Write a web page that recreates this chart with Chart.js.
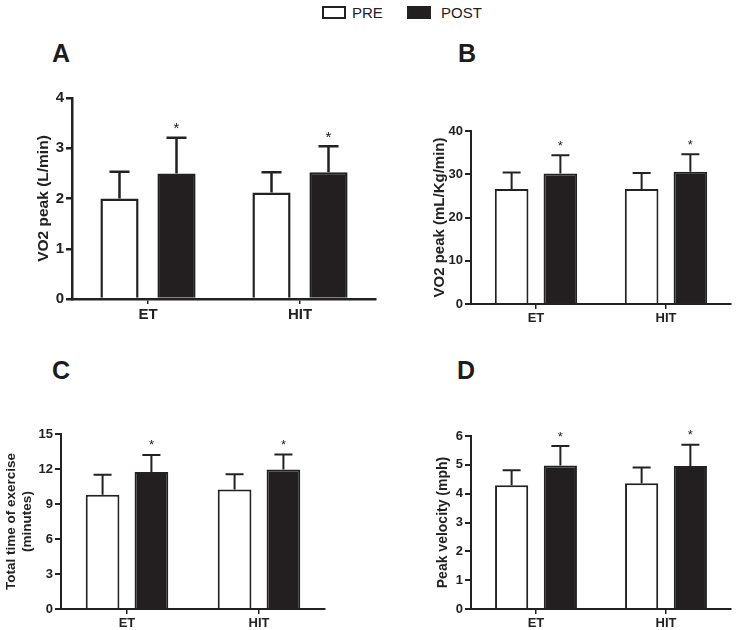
<!DOCTYPE html>
<html>
<head>
<meta charset="utf-8">
<script src="https://cdn.jsdelivr.net/npm/chart.js@4/dist/chart.umd.min.js"></script>
<style>
  body { margin: 0; background: #fff; font-family: "Liberation Sans", Arial, sans-serif; }
  #page { position: relative; width: 736px; height: 630px; overflow: hidden; background: #fff; }
  .panel { position: absolute; }
  .letter { position: absolute; font-weight: bold; font-size: 25px; line-height: 1; color: #1c1c1c; }
  .legend-box { position: absolute; width: 20px; height: 9px; border: 2px solid #222; }
  .legend-text { position: absolute; font-size: 15px; line-height: 1; color: #222; }
</style>
</head>
<body>
<div id="page">
  <div class="legend-box" style="left:322px; top:6px; background:#fff;"></div>
  <div class="legend-text" style="left:352px; top:5px;">PRE</div>
  <div class="legend-box" style="left:407px; top:6px; background:#231f20;"></div>
  <div class="legend-text" style="left:441px; top:5px;">POST</div>

  <div class="letter" style="left:52px; top:41px;">A</div>
  <div class="letter" style="left:458px; top:41px;">B</div>
  <div class="letter" style="left:52px; top:358px;">C</div>
  <div class="letter" style="left:457px; top:358px;">D</div>

  <div class="panel" style="left:0px; top:60px;"><canvas id="chartA" width="380" height="270"></canvas></div>
  <div class="panel" style="left:400px; top:100px;"><canvas id="chartB" width="336" height="235"></canvas></div>
  <div class="panel" style="left:0px; top:400px;"><canvas id="chartC" width="330" height="230"></canvas></div>
  <div class="panel" style="left:400px; top:400px;"><canvas id="chartD" width="336" height="230"></canvas></div>
</div>
<script>
'use strict';

const groups = ['ET', 'HIT'];
const seriesNames = ['PRE', 'POST'];
const starred = [false, true];

// A - VO2 peak (L/min)
const vo2AbsPre = [2.0, 2.12];
const vo2AbsPost = [2.5, 2.52];
const vo2AbsPreSd = [0.53, 0.40];
const vo2AbsPostSd = [0.71, 0.52];
const vo2AbsTicks = [0, 1, 2, 3, 4];

// B - VO2 peak (mL/Kg/min)
const vo2RelPre = [26.6, 26.6];
const vo2RelPost = [30.2, 30.6];
const vo2RelPreSd = [3.8, 3.7];
const vo2RelPostSd = [4.2, 4.0];
const vo2RelTicks = [0, 10, 20, 30, 40];

// C - total time of exercise (minutes)
const timePre = [9.8, 10.25];
const timePost = [11.75, 11.95];
const timePreSd = [1.7, 1.3];
const timePostSd = [1.45, 1.3];
const timeTicks = [0, 3, 6, 9, 12, 15];

// D - peak velocity (mph)
const velPre = [4.29, 4.36];
const velPost = [4.98, 4.96];
const velPreSd = [0.52, 0.55];
const velPostSd = [0.67, 0.74];
const velTicks = [0, 1, 2, 3, 4, 5, 6];

const ink = '#222';
const postFill = '#231f20';
const fontFamily = "'Liberation Sans', Arial, sans-serif";

// draws upper SD whiskers and the * marks above POST bars
const errorBars = {
  id: 'errorBars',
  afterDatasetsDraw(chart, args, opts) {
    const ctx = chart.ctx;
    const yScale = chart.scales.y;
    ctx.save();
    ctx.strokeStyle = ink;
    ctx.fillStyle = ink;
    ctx.lineWidth = opts.lineWidth;
    ctx.font = opts.starSize + 'px ' + fontFamily;
    ctx.textAlign = 'center';
    ctx.textBaseline = 'alphabetic';
    chart.data.datasets.forEach((ds, i) => {
      const meta = chart.getDatasetMeta(i);
      meta.data.forEach((bar, j) => {
        const base = yScale.getPixelForValue(ds.data[j]);
        const top = yScale.getPixelForValue(ds.data[j] + opts.sd[i][j]);
        ctx.beginPath();
        ctx.moveTo(bar.x, base);
        ctx.lineTo(bar.x, top);
        ctx.moveTo(bar.x - opts.cap / 2, top);
        ctx.lineTo(bar.x + opts.cap / 2, top);
        ctx.stroke();
        if (opts.stars[i]) {
          ctx.fillText('*', bar.x, top - 13 + opts.starSize * 0.57);
        }
      });
    });
    ctx.restore();
  }
};

function makePanel(canvasId, pre, post, preSd, postSd, ticks, title, look) {
  const canvasElem = document.getElementById(canvasId);
  const data = {
    labels: groups,
    datasets: [
      {
        label: seriesNames[0],
        data: pre,
        backgroundColor: '#ffffff',
        borderColor: ink,
        borderWidth: look.line,
        barPercentage: look.barPct,
        categoryPercentage: look.catPct,
      },
      {
        label: seriesNames[1],
        data: post,
        backgroundColor: postFill,
        borderColor: ink,
        borderWidth: look.line,
        barPercentage: look.barPct,
        categoryPercentage: look.catPct,
      },
    ],
  };

  const config = {
    type: 'bar',
    data: data,
    plugins: [errorBars],
    options: {
      responsive: false,
      animation: false,
      devicePixelRatio: 1,
      layout: { padding: { top: look.padTop, right: look.padRight, left: 0, bottom: 0 } },
      plugins: {
        legend: { display: false },
        tooltip: { enabled: false },
        errorBars: {
          sd: [preSd, postSd],
          stars: starred,
          cap: look.cap,
          lineWidth: look.line,
          starSize: look.starSize,
        },
      },
      scales: {
        x: {
          type: 'category',
          offset: true,
          afterFit: s => { s.height = look.xh; },
          grid: { display: true, drawOnChartArea: false, offset: false, tickLength: 5, color: ink, lineWidth: 1.5 },
          border: { display: true, color: ink, width: look.line },
          ticks: { color: ink, padding: 2, font: { family: fontFamily, size: look.xFont, weight: 'bold' } },
        },
        y: {
          min: ticks[0],
          max: ticks[ticks.length - 1],
          afterFit: s => { s.width = look.yw; },
          afterBuildTicks: s => { s.ticks = ticks.map(v => ({ value: v })); },
          grid: { display: true, drawOnChartArea: false, tickLength: 6, color: ink, lineWidth: look.line },
          border: { display: true, color: ink, width: look.line },
          ticks: { color: ink, padding: 2, font: { family: fontFamily, size: look.tickFont, weight: 'bold' } },
          title: {
            display: true,
            text: title,
            color: ink,
            padding: { top: look.titlePad, bottom: 0 },
            font: { family: fontFamily, size: look.titleFont, weight: 'bold', lineHeight: 1.2 },
          },
        },
      },
    },
  };

  new Chart(canvasElem, config);
}

makePanel('chartA', vo2AbsPre, vo2AbsPost, vo2AbsPreSd, vo2AbsPostSd, vo2AbsTicks, 'VO2 peak (L/min)',
  { padTop: 38, padRight: 4, yw: 72, xh: 31, line: 2.5, barPct: 0.67, catPct: 0.75, cap: 20,
    starSize: 15, xFont: 15, tickFont: 15, titleFont: 15.5, titlePad: 34 });

makePanel('chartB', vo2RelPre, vo2RelPost, vo2RelPreSd, vo2RelPostSd, vo2RelTicks, 'VO2 peak (mL/Kg/min)',
  { padTop: 31, padRight: 5, yw: 71, xh: 31, line: 2, barPct: 0.69, catPct: 0.75, cap: 18,
    starSize: 13, xFont: 13, tickFont: 13, titleFont: 15, titlePad: 31 });

makePanel('chartC', timePre, timePost, timePreSd, timePostSd, timeTicks, ['Total time of exercise', '(minutes)'],
  { padTop: 34, padRight: 5, yw: 61, xh: 21, line: 2, barPct: 0.69, catPct: 0.74, cap: 18,
    starSize: 13, xFont: 13, tickFont: 13, titleFont: 13.5, titlePad: 3 });

makePanel('chartD', velPre, velPost, velPreSd, velPostSd, velTicks, 'Peak velocity (mph)',
  { padTop: 36, padRight: 5, yw: 71, xh: 21, line: 2, barPct: 0.68, catPct: 0.75, cap: 18,
    starSize: 13, xFont: 13, tickFont: 13, titleFont: 14, titlePad: 35 });
</script>
</body>
</html>
